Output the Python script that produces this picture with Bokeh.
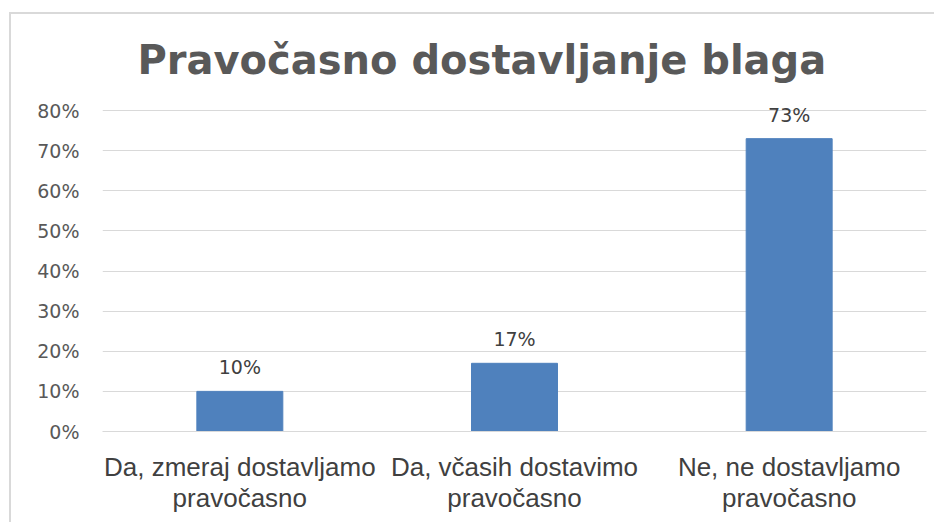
from bokeh.plotting import figure
from bokeh.models import ColumnDataSource, Title, FixedTicker, NumeralTickFormatter
from bokeh.core.properties import value
from bokeh.embed import file_html
from bokeh.resources import INLINE

categories = ["Da, zmeraj dostavljamo\npravočasno", "Da, včasih dostavimo\npravočasno", "Ne, ne dostavljamo\npravočasno"]
shares = [0.10, 0.17, 0.73]
share_labels = ["10%", "17%", "73%"]
y_ticks = [0, 0.1, 0.2, 0.3, 0.4, 0.5, 0.6, 0.7, 0.8]
title_text = "Pravočasno dostavljanje blaga"

W, H = 925, 510
p = figure(x_range=categories, y_range=(0, 0.85), width=W, height=H,
           output_backend="svg", toolbar_location=None,
           min_border_left=91, min_border_right=10, min_border_top=76, min_border_bottom=93)
p.styles = {"border-left": "2px solid #d9d9d9", "border-top": "2px solid #d9d9d9",
            "margin-left": "9px", "margin-top": "12px"}
p.outline_line_color = None
p.background_fill_color = "white"
p.border_fill_color = "white"

src = ColumnDataSource(dict(cat=categories, val=shares, lab=share_labels))
p.vbar(x="cat", top="val", width=0.313, source=src, fill_color="#4F81BD", line_color="#4F81BD")
p.text(x="cat", y="val", text="lab", source=src, text_align="center", text_baseline="alphabetic",
       y_offset=-24, text_font=value("DejaVu Sans"), text_font_size="19px", text_color="#404040")

p.yaxis.ticker = FixedTicker(ticks=y_ticks)
p.yaxis.formatter = NumeralTickFormatter(format="0%")
p.yaxis.axis_line_color = None
p.yaxis.major_tick_line_color = None
p.yaxis.minor_tick_line_color = None
p.yaxis.major_label_standoff = 17
p.yaxis.major_label_text_font = "DejaVu Sans"
p.yaxis.major_label_text_font_size = "19px"
p.yaxis.major_label_text_color = "#595959"

p.xaxis.axis_line_color = "#d9d9d9"
p.xaxis.major_tick_line_color = None
p.xaxis.minor_tick_line_color = None
p.xaxis.major_label_standoff = 14
p.xaxis.major_label_text_font = "Liberation Sans"
p.xaxis.major_label_text_font_size = "26px"
p.xaxis.major_label_text_color = "#404040"
p.xaxis.major_label_text_line_height = 1.05

p.xgrid.grid_line_color = None
p.ygrid.grid_line_color = "#d9d9d9"
p.ygrid.ticker = FixedTicker(ticks=y_ticks)

p.add_layout(Title(text=title_text, align="left", offset=35, standoff=16,
                   text_font="DejaVu Sans", text_font_size="40px", text_font_style="bold",
                   text_color="#595959"), "above")

open("out.html", "w").write(file_html(p, INLINE))
